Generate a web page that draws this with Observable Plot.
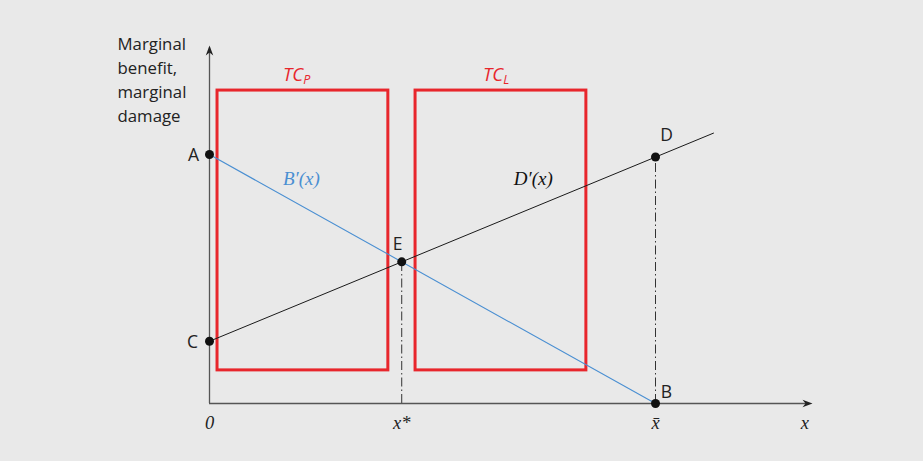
<!DOCTYPE html>
<html><head><meta charset="utf-8">
<script src="https://cdn.jsdelivr.net/npm/d3@7"></script>
<script src="https://cdn.jsdelivr.net/npm/@observablehq/plot@0.6"></script>
<style>
html,body{margin:0;padding:0;background:#e9e9e9;}
#chart svg{display:block;background:#e9e9e9;}
</style></head>
<body><div id="chart"></div>
<script>
// axis extents (data units)
const xMax = 13.52, yMax = 14.38;
// B'(x): marginal benefit (A -> B)
const benefitX = [0, 10];
const benefitY = [10, 0];
// D'(x): marginal damage (C -> D and beyond)
const damageX = [0, 11.3];
const damageY = [2.5, 10.86];
// labelled points
const pointNames = ["A", "C", "E", "D", "B"];
const pointX = [0, 0, 4.31, 10, 10];
const pointY = [10, 2.5, 5.69, 9.9, 0];
// vertical drop lines (x*, x̄)
const dropX = [4.31, 10];
const dropY = [5.69, 9.9];
// transaction-cost boxes
const boxMain = ["TC", "TC"];
const boxSub = ["P", "L"];
const boxX1 = [0.18, 4.62], boxX2 = [4.01, 8.45];
const boxY1 = [1.33, 1.33], boxY2 = [12.57, 12.57];
const boxLabelX = [2.10, 6.585], boxLabelY = [13.2, 13.2];
// x tick labels
const tickLabels = ["0", "x*", "x\u0304", "x"];
const tickX = [0, 4.31, 10, 13.35];
// curve labels
const curveNames = ["B\u2032(x)", "D\u2032(x)"];
const curveX = [2.06, 7.26], curveY = [9.04, 9.04];
const yTitle = "Marginal\nbenefit,\nmarginal\ndamage";

const benefit = benefitX.map((x, i) => ({x, y: benefitY[i]}));
const damage = damageX.map((x, i) => ({x, y: damageY[i]}));
const points = pointNames.map((n, i) => ({n, x: pointX[i], y: pointY[i]}));
const drops = dropX.map((x, i) => ({x, y: dropY[i]}));
const boxes = boxMain.map((m, i) => ({m, s: boxSub[i], x1: boxX1[i], x2: boxX2[i], y1: boxY1[i], y2: boxY2[i], lx: boxLabelX[i], ly: boxLabelY[i]}));
const ticks = tickLabels.map((t, i) => ({t, x: tickX[i]}));
const curves = curveNames.map((t, i) => ({t, x: curveX[i], y: curveY[i]}));
const arrows = [{x: 0, y: yMax, r: 0}, {x: xMax, y: 0, r: 90}];

const dart = {draw(ctx, size) {
  const r = Math.sqrt(size / Math.PI);
  ctx.moveTo(0, 0);
  ctx.lineTo(r * 0.75, r * 2.0);
  ctx.lineTo(0, r * 1.4);
  ctx.lineTo(-r * 0.75, r * 2.0);
  ctx.closePath();
}};

const blue = "#4a8fd2", red = "#e8262c", ink = "#1a1a1a", axisC = "#555";
const sans = "'Open Sans', 'Noto Sans', sans-serif";
const serif = "'Liberation Serif', 'DejaVu Serif', serif";
const lab = (name, dx, dy) => Plot.text(points.filter(d => d.n === name), {x: "x", y: "y", text: "n", dx, dy, fontSize: 17.5, fontFamily: sans, fill: "#222"});

const chart = Plot.plot({
  width: 923, height: 461,
  x: {domain: [0, xMax], range: [209, 812]},
  y: {domain: [0, yMax], range: [403, 45]},
  axis: null,
  style: {background: "#e9e9e9", overflow: "visible"},
  marks: [
    Plot.rect(boxes, {x1: "x1", x2: "x2", y1: "y1", y2: "y2", fill: "none", stroke: red, strokeWidth: 3}),
    Plot.ruleX(drops, {x: "x", y1: 0, y2: "y", stroke: "#333", strokeWidth: 1, strokeDasharray: "9,3,1.5,3"}),
    Plot.ruleX([0], {y1: 0, y2: yMax - 0.1, stroke: axisC, strokeWidth: 1.3}),
    Plot.ruleY([0], {x1: 0, x2: xMax - 0.1, stroke: axisC, strokeWidth: 1.3}),
    Plot.dot(arrows, {x: "x", y: "y", rotate: "r", symbol: dart, r: 5, fill: "#222", stroke: "none"}),
    Plot.line(benefit, {x: "x", y: "y", stroke: blue, strokeWidth: 1.1}),
    Plot.line(damage, {x: "x", y: "y", stroke: ink, strokeWidth: 1}),
    Plot.dot(points, {x: "x", y: "y", r: 4.5, fill: "#111", stroke: "none"}),
    lab("A", -16, 1), lab("C", -17, 1), lab("E", -4, -17), lab("D", 11, -22), lab("B", 11, -11),
    Plot.text(boxes, {x: "lx", y: "ly", text: "m", textAnchor: "end", fontSize: 18.5, fontStyle: "italic", fontFamily: sans, fill: red}),
    Plot.text(boxes, {x: "lx", y: "ly", text: "s", textAnchor: "start", dy: 5, fontSize: 12.5, fontStyle: "italic", fontFamily: sans, fill: red}),
    Plot.text(curves.slice(0, 1), {x: "x", y: "y", text: "t", fontSize: 19, fontStyle: "italic", fontFamily: serif, fill: blue}),
    Plot.text(curves.slice(1), {x: "x", y: "y", text: "t", fontSize: 19, fontStyle: "italic", fontFamily: serif, fill: "#111"}),
    Plot.text(ticks, {x: "x", y: 0, text: "t", dy: 20, fontSize: 18.5, fontStyle: "italic", fontFamily: serif, fill: "#222"}),
    Plot.text([yTitle], {x: 0, y: yMax, text: d => d, dx: -92, dy: -12, textAnchor: "start", lineAnchor: "top", lineHeight: 1.42, fontSize: 16.8, fontFamily: sans, fill: "#222"})
  ]
});
document.getElementById("chart").append(chart);
</script>
</body></html>
